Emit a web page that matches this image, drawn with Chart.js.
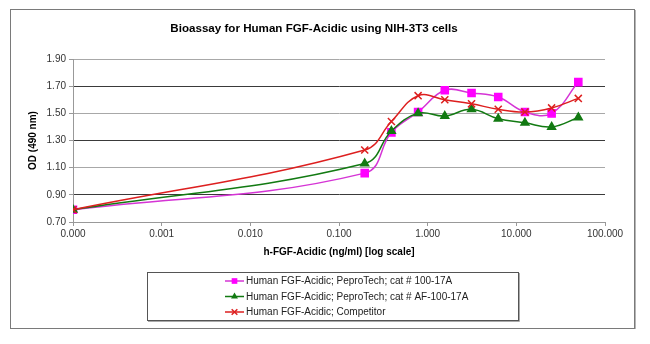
<!DOCTYPE html>
<html>
<head>
<meta charset="utf-8">
<title>Bioassay for Human FGF-Acidic using NIH-3T3 cells</title>
<script src="https://cdn.jsdelivr.net/npm/chart.js@4.4.1/dist/chart.umd.min.js"></script>
<style>
  html, body { margin: 0; padding: 0; background: #fff; }
  #wrap { width: 650px; height: 344px; }
</style>
</head>
<body>
<div id="wrap"><canvas id="chartBioassay" width="650" height="344"></canvas></div>
<script>
// concentrations (ng/ml); the zero point sits on the log axis floor
const doses = [0.0001, 0.195, 0.39, 0.78, 1.56, 3.125, 6.25, 12.5, 25, 50];
const odPeproTech = [0.79, 1.06, 1.36, 1.51, 1.67, 1.65, 1.62, 1.51, 1.50, 1.73];
const odPeproTechAF = [0.79, 1.13, 1.37, 1.50, 1.48, 1.53, 1.46, 1.43, 1.40, 1.47];
const odCompetitor = [0.79, 1.23, 1.44, 1.63, 1.60, 1.57, 1.53, 1.51, 1.54, 1.61];
const seriesNames = [
  "Human FGF-Acidic; PeproTech; cat # 100-17A",
  "Human FGF-Acidic; PeproTech; cat # AF-100-17A",
  "Human FGF-Acidic; Competitor",
];
const xTickValues = [0.0001, 0.001, 0.01, 0.1, 1, 10, 100];
const xTickLabels = ["0.000", "0.001", "0.010", "0.100", "1.000", "10.000", "100.000"];
const yTickValues = [0.7, 0.9, 1.1, 1.3, 1.5, 1.7, 1.9];

(function () {
  if (typeof Chart === "undefined") {
    return;
  }

  const FONT = "'Liberation Sans', Arial, sans-serif";

  function points(values) {
    return doses.map((d, i) => ({ x: d, y: values[i] }));
  }

  function drawMarker(ctx, style, r, x, y, color, lw) {
    ctx.save();
    ctx.fillStyle = color;
    ctx.strokeStyle = color;
    ctx.lineWidth = lw;
    ctx.beginPath();
    if (style === "rect") {
      const s = r * Math.SQRT1_2;
      ctx.rect(x - s, y - s, 2 * s, 2 * s);
      ctx.fill();
    } else if (style === "triangle") {
      ctx.moveTo(x, y - r);
      ctx.lineTo(x + r * 0.866, y + r * 0.5);
      ctx.lineTo(x - r * 0.866, y + r * 0.5);
      ctx.closePath();
      ctx.fill();
    } else {
      const s = r * Math.SQRT1_2;
      ctx.moveTo(x - s, y - s);
      ctx.lineTo(x + s, y + s);
      ctx.moveTo(x + s, y - s);
      ctx.lineTo(x - s, y + s);
      ctx.stroke();
    }
    ctx.restore();
  }

  // outer chart frame (Excel style)
  const chartFrame = {
    id: "chartFrame",
    beforeDraw(chart) {
      const ctx = chart.ctx;
      ctx.save();
      ctx.fillStyle = "#fff";
      ctx.fillRect(0, 0, chart.width, chart.height);
      ctx.strokeStyle = "#7a7a7a";
      ctx.lineWidth = 1;
      ctx.strokeRect(10.5, 9.5, 624, 319);
      ctx.strokeStyle = "#b5b5b5";
      ctx.beginPath();
      ctx.moveTo(635.5, 10);
      ctx.lineTo(635.5, 329);
      ctx.stroke();
      ctx.restore();
    },
  };

  // legend drawn in a bordered box below the axis title
  const boxedLegend = {
    id: "boxedLegend",
    afterDraw(chart) {
      const ctx = chart.ctx;
      ctx.save();
      ctx.strokeStyle = "#555";
      ctx.lineWidth = 1;
      ctx.strokeRect(147.5, 272.5, 371, 48);
      ctx.strokeStyle = "#aaa";
      ctx.beginPath();
      ctx.moveTo(519.5, 273);
      ctx.lineTo(519.5, 321.5);
      ctx.lineTo(148, 321.5);
      ctx.stroke();

      ctx.font = "10px " + FONT;
      ctx.textBaseline = "middle";
      ctx.textAlign = "left";
      chart.data.datasets.forEach((ds, i) => {
        const y = 281 + i * 15.5;
        ctx.strokeStyle = ds.borderColor;
        ctx.lineWidth = 1.5;
        ctx.beginPath();
        ctx.moveTo(225, y);
        ctx.lineTo(244, y);
        ctx.stroke();
        drawMarker(ctx, ds.pointStyle, 4, 234.5, y, ds.pointBackgroundColor, 1.5);
        ctx.fillStyle = "#222";
        ctx.fillText(ds.label, 246, y + 0.5);
      });
      ctx.restore();
    },
  };

  const el = document.getElementById("chartBioassay");
  new Chart(el, {
    type: "line",
    data: {
      datasets: [
        {
          label: seriesNames[0],
          data: points(odPeproTech),
          borderColor: "#d534d5",
          backgroundColor: "#ff00ff",
          pointBackgroundColor: "#ff00ff",
          pointBorderColor: "#ff00ff",
          pointStyle: "rect",
          pointRadius: 5,
          borderWidth: 1.5,
          tension: 0.4,
          order: 2,
        },
        {
          label: seriesNames[1],
          data: points(odPeproTechAF),
          borderColor: "#127a12",
          backgroundColor: "#127a12",
          pointBackgroundColor: "#127a12",
          pointBorderColor: "#127a12",
          pointStyle: "triangle",
          pointRadius: 4.5,
          borderWidth: 1.5,
          tension: 0.4,
          order: 1,
        },
        {
          label: seriesNames[2],
          data: points(odCompetitor),
          borderColor: "#dd1f1f",
          backgroundColor: "#dd1f1f",
          pointBackgroundColor: "#dd1f1f",
          pointBorderColor: "#dd1f1f",
          pointStyle: "crossRot",
          pointRadius: 5,
          pointBorderWidth: 1.5,
          borderWidth: 1.5,
          tension: 0.4,
          order: 0,
        },
      ],
    },
    options: {
      responsive: false,
      animation: false,
      events: [],
      layout: { padding: { left: 23, right: 45, top: 18, bottom: 86 } },
      plugins: {
        legend: { display: false },
        tooltip: { enabled: false },
        title: {
          display: true,
          text: "Bioassay for Human FGF-Acidic using NIH-3T3 cells",
          color: "#000",
          font: { family: FONT, size: 11.6, weight: "bold" },
          padding: { top: 4, bottom: 23.1 },
        },
      },
      scales: {
        x: {
          type: "logarithmic",
          min: 0.0001,
          max: 100,
          afterBuildTicks: (s) => {
            s.ticks = xTickValues.map((v) => ({ value: v }));
          },
          afterFit: (s) => {
            s.height = 36;
          },
          ticks: {
            autoSkip: false,
            maxRotation: 0,
            padding: 2,
            color: "#333",
            font: { family: FONT, size: 10 },
            callback: (v, i) => xTickLabels[i],
          },
          grid: { drawOnChartArea: false, drawTicks: true, tickLength: 4, color: "#999" },
          border: { color: "#999", width: 1 },
          title: {
            display: true,
            text: "h-FGF-Acidic (ng/ml) [log scale]",
            color: "#000",
            font: { family: FONT, size: 10, weight: "bold" },
            padding: { top: 0, bottom: 0 },
          },
        },
        y: {
          min: 0.7,
          max: 1.9,
          afterBuildTicks: (s) => {
            s.ticks = yTickValues.map((v) => ({ value: v }));
          },
          afterFit: (s) => {
            s.width = 50;
          },
          ticks: {
            padding: 3,
            color: "#333",
            font: { family: FONT, size: 10 },
            callback: (v) => Number(v).toFixed(2),
          },
          grid: {
            tickLength: 4,
            color: (c) => (c.index === 0 ? "#999" : c.index % 2 === 1 ? "#3a3a3a" : "#a8a8a8"),
            tickColor: "#999",
          },
          border: { color: "#999", width: 1 },
          title: {
            display: true,
            text: "OD (490 nm)",
            color: "#000",
            font: { family: FONT, size: 10, weight: "bold" },
            padding: { top: 4, bottom: 0 },
          },
        },
      },
    },
    plugins: [chartFrame, boxedLegend],
  });
})();
</script>
</body>
</html>
